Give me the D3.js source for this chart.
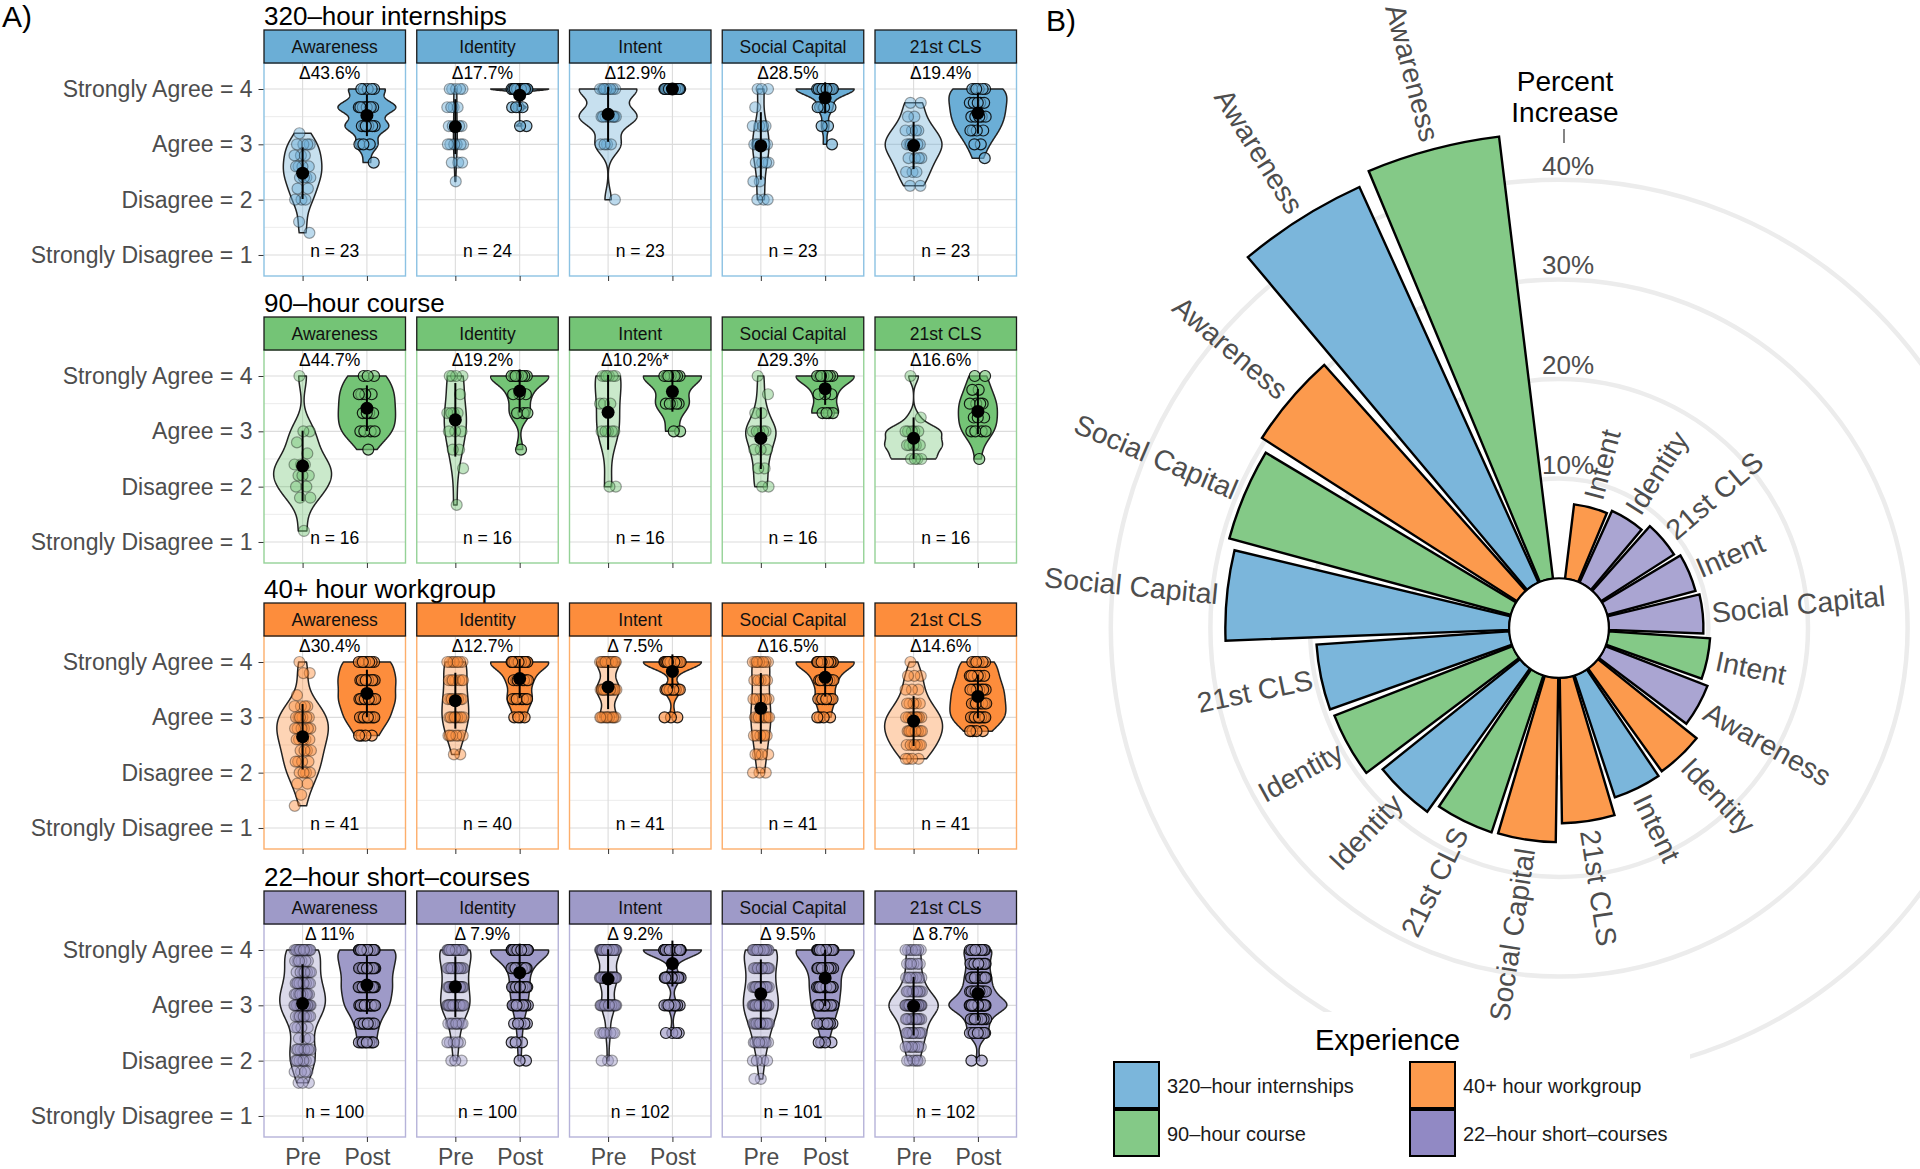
<!DOCTYPE html>
<html>
<head>
<meta charset="utf-8">
<script src="https://cdn.jsdelivr.net/npm/d3@7/dist/d3.min.js"></script>
<style>
html,body{margin:0;padding:0;background:#ffffff;}
svg{display:block;}
text{font-family:"Liberation Sans",Arial,Helvetica,sans-serif;}
</style>
</head>
<body>
<svg id="chart" width="1920" height="1169"></svg>
<script>
// ================= DATA =================
const experiences = ["320–hour internships", "90–hour course", "40+ hour workgroup", "22–hour short–courses"];
const constructs = ["Awareness", "Identity", "Intent", "Social Capital", "21st CLS"];
const phases = ["Pre", "Post"];
const yTickValues = [1, 2, 3, 4];
const yTickLabels = ["Strongly Disagree = 1", "Disagree = 2", "Agree = 3", "Strongly Agree = 4"];
const yMinorValues = [1.5, 2.5, 3.5];

// percent increase (panel B, and Δ labels in panel A)
const pctIncrease320 = [43.6, 17.7, 12.9, 28.5, 19.4];
const pctIncrease90  = [44.7, 19.2, 10.2, 29.3, 16.6];
const pctIncrease40  = [30.4, 12.7, 7.5, 16.5, 14.6];
const pctIncrease22  = [11.0, 7.9, 9.2, 9.5, 8.7];
const deltaLabels320 = ["Δ43.6%", "Δ17.7%", "Δ12.9%", "Δ28.5%", "Δ19.4%"];
const deltaLabels90  = ["Δ44.7%", "Δ19.2%", "Δ10.2%*", "Δ29.3%", "Δ16.6%"];
const deltaLabels40  = ["Δ30.4%", "Δ12.7%", "Δ 7.5%", "Δ16.5%", "Δ14.6%"];
const deltaLabels22  = ["Δ 11%", "Δ 7.9%", "Δ 9.2%", "Δ 9.5%", "Δ 8.7%"];
const nLabels320 = [23, 24, 23, 23, 23];
const nLabels90  = [16, 16, 16, 16, 16];
const nLabels40  = [41, 40, 41, 41, 41];
const nLabels22  = [100, 100, 102, 101, 102];

// individual responses: [score, count] per construct
const resp320Pre = [
  [[3.2,1],[3.0,4],[2.8,3],[2.6,4],[2.4,4],[2.2,2],[2.0,3],[1.6,1],[1.4,1]],
  [[4,5],[3.67,4],[3.33,5],[3,6],[2.67,3],[2.33,1]],
  [[4,9],[3.5,9],[3,4],[2,1]],
  [[4,3],[3.67,1],[3.33,4],[3,6],[2.67,4],[2.33,2],[2,3]],
  [[3.75,2],[3.5,2],[3.25,4],[3,6],[2.75,4],[2.5,3],[2.25,2]]
];
const resp320Post = [
  [[4,5],[3.67,8],[3.33,6],[3,3],[2.67,1]],
  [[4,18],[3.67,4],[3.33,2]],
  [[4,23]],
  [[4,16],[3.67,4],[3.33,2],[3,1]],
  [[4,6],[3.75,5],[3.5,5],[3.25,4],[3,2],[2.75,1]]
];
const resp90Pre = [
  [[4,1],[3,2],[2.8,1],[2.6,1],[2.4,3],[2.2,3],[2,2],[1.8,2],[1.2,1]],
  [[4,4],[3.67,1],[3.33,4],[3,3],[2.67,2],[2.33,1],[1.67,1]],
  [[4,6],[3.5,3],[3,5],[2,2]],
  [[4,1],[3.67,1],[3.33,2],[3,5],[2.67,3],[2.33,2],[2,2]],
  [[4,1],[3.25,1],[3,5],[2.75,5],[2.5,4]]
];
const resp90Post = [
  [[4,3],[3.67,4],[3.33,4],[3,4],[2.67,1]],
  [[4,9],[3.67,3],[3.33,3],[2.67,1]],
  [[4,9],[3.5,5],[3,2]],
  [[4,9],[3.67,3],[3.33,4]],
  [[4,2],[3.75,2],[3.5,4],[3.25,3],[3,4],[2.5,1]]
];
const resp40Pre = [
  [[4,1],[3.8,2],[3.4,1],[3.2,4],[3,6],[2.8,6],[2.6,5],[2.4,4],[2.2,4],[2,4],[1.8,2],[1.6,1],[1.4,1]],
  [[4,8],[3.67,7],[3.33,8],[3,9],[2.67,6],[2.33,2]],
  [[4,15],[3.5,15],[3,11]],
  [[4,9],[3.67,5],[3.33,6],[3,8],[2.67,6],[2.33,4],[2,3]],
  [[4,1],[3.75,3],[3.5,3],[3.25,5],[3,9],[2.75,9],[2.5,7],[2.25,4]]
];
const resp40Post = [
  [[4,9],[3.67,10],[3.33,10],[3,8],[2.67,4]],
  [[4,20],[3.67,8],[3.33,8],[3,4]],
  [[4,30],[3.5,8],[3,3]],
  [[4,22],[3.67,8],[3.33,7],[3,4]],
  [[4,6],[3.75,6],[3.5,8],[3.25,8],[3,9],[2.75,4]]
];
const resp22Pre = [
  [[4,16],[3.8,6],[3.6,7],[3.4,9],[3.2,10],[3,15],[2.8,8],[2.6,4],[2.4,3],[2.2,8],[2,7],[1.8,4],[1.6,3]],
  [[4,25],[3.67,18],[3.33,18],[3,22],[2.67,9],[2.33,5],[2,3]],
  [[4,40],[3.5,30],[3,22],[2.5,7],[2,3]],
  [[4,22],[3.67,15],[3.33,16],[3,21],[2.67,13],[2.33,8],[2,4],[1.67,2]],
  [[4,8],[3.75,6],[3.5,8],[3.25,12],[3,30],[2.75,12],[2.5,12],[2.25,8],[2,6]]
];
const resp22Post = [
  [[4,25],[3.67,20],[3.33,20],[3,18],[2.67,9],[2.33,8]],
  [[4,50],[3.67,15],[3.33,14],[3,11],[2.67,5],[2.33,3],[2,2]],
  [[4,70],[3.5,18],[3,10],[2.5,4]],
  [[4,38],[3.67,18],[3.33,17],[3,15],[2.67,9],[2.33,4]],
  [[4,14],[3.75,10],[3.5,12],[3.25,14],[3,30],[2.75,10],[2.5,10],[2,2]]
];

const percentTicks = [10, 20, 30, 40];
const percentTickLabels = ["10%", "20%", "30%", "40%"];

// ================= STYLE =================
const stripColors  = ["#6baed6", "#74c476", "#fd8d3c", "#9e9ac8"];
const borderColors = ["#8cc2e3", "#95d297", "#fdae6b", "#b6b3d9"];
const polarColors  = ["#7bb6db", "#84c987", "#fc9a4d", "#aaa5d2"];
const legendColors = ["#7bb6db", "#84c987", "#fc9a4d", "#9189c4"];

const svg = d3.select("#chart");
svg.append("rect").attr("width", 1920).attr("height", 1169).attr("fill", "#fff");

// ================= PANEL A =================
const colLeft0 = 264, colStep = 152.75, panelW = 141.5;
const stripTops = [30, 317, 603, 891];
const stripH = 33, panelH = 213;
const yDomain = [0.62, 4.47];

const rows = [
  {pre: resp320Pre, post: resp320Post, delta: deltaLabels320, n: nLabels320},
  {pre: resp90Pre,  post: resp90Post,  delta: deltaLabels90,  n: nLabels90},
  {pre: resp40Pre,  post: resp40Post,  delta: deltaLabels40,  n: nLabels40},
  {pre: resp22Pre,  post: resp22Post,  delta: deltaLabels22,  n: nLabels22}
];

function expand(pairs) {
  const out = [];
  pairs.forEach(([v, c]) => { for (let i = 0; i < c; i++) out.push(v); });
  return out;
}
function bwNrd0(x) {
  const n = x.length;
  const sd = d3.deviation(x) || 0;
  const s = x.slice().sort(d3.ascending);
  const iqr = d3.quantile(s, 0.75) - d3.quantile(s, 0.25);
  let lo = Math.min(sd, iqr / 1.34);
  if (!lo) lo = sd || Math.abs(x[0]) || 1;
  return 0.9 * lo * Math.pow(n, -0.2);
}
function kde(x) {
  const lo = d3.min(x), hi = d3.max(x);
  if (hi - lo < 1e-9) return null;
  const bw = bwNrd0(x), m = 256, out = [];
  for (let i = 0; i < m; i++) {
    const yv = lo + (hi - lo) * i / (m - 1);
    let s = 0;
    for (const xi of x) { const z = (yv - xi) / bw; s += Math.exp(-0.5 * z * z); }
    out.push([yv, s / (x.length * bw * Math.sqrt(2 * Math.PI))]);
  }
  return out;
}
function jitter(k) { return (((k * 0.6180339887 + 0.31) % 1) - 0.5) * 2 * 0.13; }

svg.append("text").attr("x", 2).attr("y", 27).attr("font-size", 30).attr("fill", "#000").text("A)");

rows.forEach((row, ri) => {
  const top = stripTops[ri] + stripH, bottom = top + panelH;
  const y = d3.scaleLinear().domain(yDomain).range([bottom, top]);
  const col = stripColors[ri];

  svg.append("text").attr("x", colLeft0).attr("y", stripTops[ri] - 5)
    .attr("font-size", 26).attr("fill", "#000").text(experiences[ri]);

  constructs.forEach((cName, ci) => {
    const left = colLeft0 + ci * colStep;
    const x = d3.scalePoint().domain(phases).range([left, left + panelW]).padding(0.6);
    const step = x.step();
    const g = svg.append("g");

    g.append("rect").attr("x", left).attr("y", top).attr("width", panelW).attr("height", panelH).attr("fill", "#fff");
    g.selectAll(null).data(yMinorValues).join("line")
      .attr("x1", left).attr("x2", left + panelW).attr("y1", d => y(d)).attr("y2", d => y(d))
      .attr("stroke", "#e9e9e9").attr("stroke-width", 0.9);
    g.selectAll(null).data(yTickValues).join("line")
      .attr("x1", left).attr("x2", left + panelW).attr("y1", d => y(d)).attr("y2", d => y(d))
      .attr("stroke", "#dcdcdc").attr("stroke-width", 1.1);
    g.selectAll(null).data(phases).join("line")
      .attr("x1", d => x(d)).attr("x2", d => x(d)).attr("y1", top).attr("y2", bottom)
      .attr("stroke", "#dcdcdc").attr("stroke-width", 1.1);

    const groups = [expand(row.pre[ci]), expand(row.post[ci])];
    const dens = groups.map(kde);
    const maxD = d3.max(dens.filter(Boolean).flat(), d => d[1]);

    dens.forEach((dd, pi) => {
      if (!dd) return;
      const xc = x(phases[pi]);
      const area = d3.area()
        .y(d => y(d[0]))
        .x0(d => xc - d[1] / maxD * 0.45 * step)
        .x1(d => xc + d[1] / maxD * 0.45 * step);
      g.append("path").datum(dd).attr("d", area)
        .attr("fill", col).attr("fill-opacity", pi === 0 ? 0.38 : 1)
        .attr("stroke", "#222").attr("stroke-width", 1.5).attr("stroke-linejoin", "round");
    });

    groups.forEach((vals, pi) => {
      const xc = x(phases[pi]);
      g.selectAll(null).data(vals).join("circle")
        .attr("cx", (d, k) => xc + jitter(k) * step)
        .attr("cy", d => y(d))
        .attr("r", 5.5)
        .attr("fill", col).attr("fill-opacity", pi === 0 ? 0.45 : 0.65)
        .attr("stroke", "#000").attr("stroke-opacity", pi === 0 ? 0.35 : 0.85)
        .attr("stroke-width", 1.2);
    });

    groups.forEach((vals, pi) => {
      const xc = x(phases[pi]);
      const m = d3.mean(vals), s = d3.deviation(vals) || 0;
      g.append("line").attr("x1", xc).attr("x2", xc).attr("y1", y(m - s)).attr("y2", y(m + s))
        .attr("stroke", "#000").attr("stroke-width", 2);
      g.append("circle").attr("cx", xc).attr("cy", y(m)).attr("r", 6.5).attr("fill", "#000");
    });

    g.append("text").attr("x", x("Pre") + 0.42 * step).attr("y", y(4.29))
      .attr("dominant-baseline", "central").attr("text-anchor", "middle")
      .attr("font-size", 17.5).attr("fill", "#000").text(row.delta[ci]);
    g.append("text").attr("x", left + panelW / 2).attr("y", y(1.07))
      .attr("dominant-baseline", "central").attr("text-anchor", "middle")
      .attr("font-size", 17.5).attr("fill", "#000").text("n = " + row.n[ci]);

    g.append("rect").attr("x", left).attr("y", top).attr("width", panelW).attr("height", panelH)
      .attr("fill", "none").attr("stroke", borderColors[ri]).attr("stroke-width", 1.4);

    g.append("rect").attr("x", left).attr("y", stripTops[ri]).attr("width", panelW).attr("height", stripH)
      .attr("fill", col).attr("stroke", "#1a1a1a").attr("stroke-width", 1.3);
    g.append("text").attr("x", left + panelW / 2).attr("y", stripTops[ri] + stripH / 2)
      .attr("dominant-baseline", "central").attr("text-anchor", "middle")
      .attr("font-size", 17.5).attr("fill", "#111").text(cName);

    // x axis
    const xa = svg.append("g").attr("transform", `translate(0,${bottom})`)
      .call(d3.axisBottom(x).tickSize(5).tickPadding(7).tickFormat(ri === 3 ? (d => d) : () => ""));
    xa.select(".domain").remove();
    xa.selectAll(".tick line").attr("stroke", "#333");
    xa.selectAll("text").attr("font-size", 23).attr("fill", "#4d4d4d")
      .attr("font-family", '"Liberation Sans",Arial,Helvetica,sans-serif');

    if (ci === 0) {
      const ya = svg.append("g").attr("transform", `translate(${left - 0.5},0)`)
        .call(d3.axisLeft(y).tickValues(yTickValues).tickSize(5).tickPadding(6)
          .tickFormat(d => yTickLabels[yTickValues.indexOf(d)]));
      ya.select(".domain").remove();
      ya.selectAll(".tick line").attr("stroke", "#333");
      ya.selectAll("text").attr("font-size", 23).attr("fill", "#4d4d4d")
        .attr("font-family", '"Liberation Sans",Arial,Helvetica,sans-serif');
    }
  });
});

// ================= PANEL B =================
svg.append("text").attr("x", 1046).attr("y", 31).attr("font-size", 30).attr("fill", "#000").text("B)");

const cx = 1559, cy = 628;
const rScale = d3.scaleLinear().domain([-5, 45]).range([0, 498]);
const pctAll = [pctIncrease320, pctIncrease90, pctIncrease40, pctIncrease22];
const bars = [];
pctAll.forEach((arr, gi) => arr.forEach((v, ci) => bars.push({group: gi, construct: constructs[ci], value: v})));
bars.sort((a, b) => a.value - b.value);
const theta = d3.scaleLinear().domain([1 - 0.85, bars.length + 0.85]).range([0, 2 * Math.PI]);

const gB = svg.append("g").attr("transform", `translate(${cx},${cy})`);
gB.selectAll(null).data(percentTicks).join("circle")
  .attr("r", d => rScale(d)).attr("fill", "none").attr("stroke", "#ececec").attr("stroke-width", 4.5);

// legend background hides the grid circles behind the legend (drawn before bars & labels)
svg.append("rect").attr("x", 1100).attr("y", 1012).attr("width", 590).attr("height", 157).attr("fill", "#fff");

const gBars = svg.append("g").attr("transform", `translate(${cx},${cy})`);
const arc = d3.arc()
  .innerRadius(rScale(0))
  .outerRadius(d => rScale(d.value))
  .startAngle((d, i) => theta(i + 1 - 0.45))
  .endAngle((d, i) => theta(i + 1 + 0.45));
gBars.selectAll(null).data(bars).join("path")
  .attr("d", (d, i) => arc(d, i))
  .attr("fill", d => polarColors[d.group])
  .attr("stroke", "#000").attr("stroke-width", 2.4).attr("stroke-linejoin", "miter");

gBars.append("circle").attr("r", rScale(0)).attr("fill", "#fff").attr("stroke", "#000").attr("stroke-width", 2);

bars.forEach((d, i) => {
  const a = theta(i + 1);
  const deg = a * 180 / Math.PI;
  const r = rScale(d.value) + 9;
  const px = r * Math.sin(a), py = -r * Math.cos(a);
  const right = deg < 180;
  gBars.append("text")
    .attr("transform", `translate(${px},${py}) rotate(${right ? deg - 90 : deg - 270})`)
    .attr("text-anchor", right ? "start" : "end")
    .attr("dominant-baseline", "central")
    .attr("font-size", 28.5).attr("fill", "#4d4d4d").text(d.construct);
});

// radial axis labels
gBars.selectAll(null).data(percentTicks).join("text")
  .attr("x", 9).attr("y", d => -(rScale(d) + 14))
  .attr("text-anchor", "middle").attr("dominant-baseline", "central")
  .attr("font-size", 26).attr("fill", "#4d4d4d")
  .text((d, i) => percentTickLabels[i]);
const titleB = svg.append("text").attr("text-anchor", "middle").attr("font-size", 28).attr("fill", "#000");
titleB.append("tspan").attr("x", 1565).attr("y", 91).text("Percent");
titleB.append("tspan").attr("x", 1565).attr("y", 122).text("Increase");
svg.append("line").attr("x1", 1564).attr("x2", 1564).attr("y1", 129).attr("y2", 143)
  .attr("stroke", "#333").attr("stroke-width", 1.2);

// legend
const lg = svg.append("g");
lg.append("text").attr("x", 1315).attr("y", 1050).attr("font-size", 29).attr("fill", "#000").text("Experience");
const legendPos = [[1114, 1062], [1114, 1110], [1410, 1062], [1410, 1110]];
experiences.forEach((name, gi) => {
  const [lx, ly] = legendPos[gi];
  lg.append("rect").attr("x", lx).attr("y", ly).attr("width", 45).attr("height", 46)
    .attr("fill", legendColors[gi]).attr("stroke", "#000").attr("stroke-width", 2);
  lg.append("text").attr("x", lx + 53).attr("y", ly + 24).attr("dominant-baseline", "central")
    .attr("font-size", 20).attr("fill", "#1a1a1a").text(name);
});
</script>
</body>
</html>
